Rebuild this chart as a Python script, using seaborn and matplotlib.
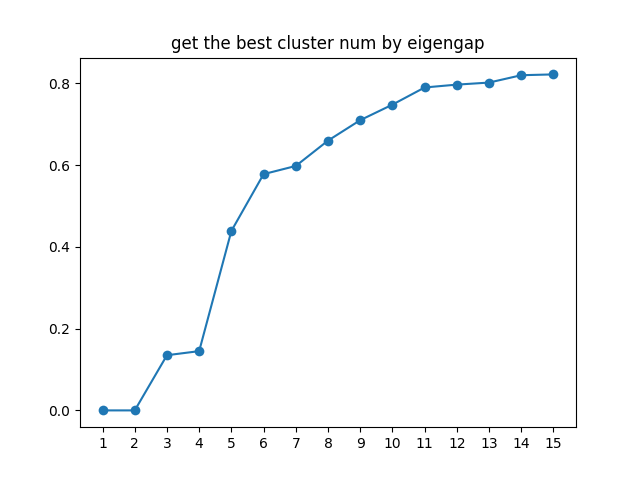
import matplotlib
matplotlib.use("Agg")
import matplotlib.pyplot as plt
import seaborn as sns

ks = list(range(1, 16))
values = [0.0, 0.0, 0.135, 0.145, 0.439, 0.578, 0.598, 0.660, 0.710, 0.748, 0.790, 0.797, 0.802, 0.820, 0.822]

fig, ax = plt.subplots(figsize=(6.4, 4.8), dpi=100)
sns.lineplot(x=ks, y=values, ax=ax, marker="o", markersize=7, markeredgewidth=0, color="#1f77b4")
ax.set_xticks(ks)
ax.set_title("get the best cluster num by eigengap")
fig.savefig("out.png")
